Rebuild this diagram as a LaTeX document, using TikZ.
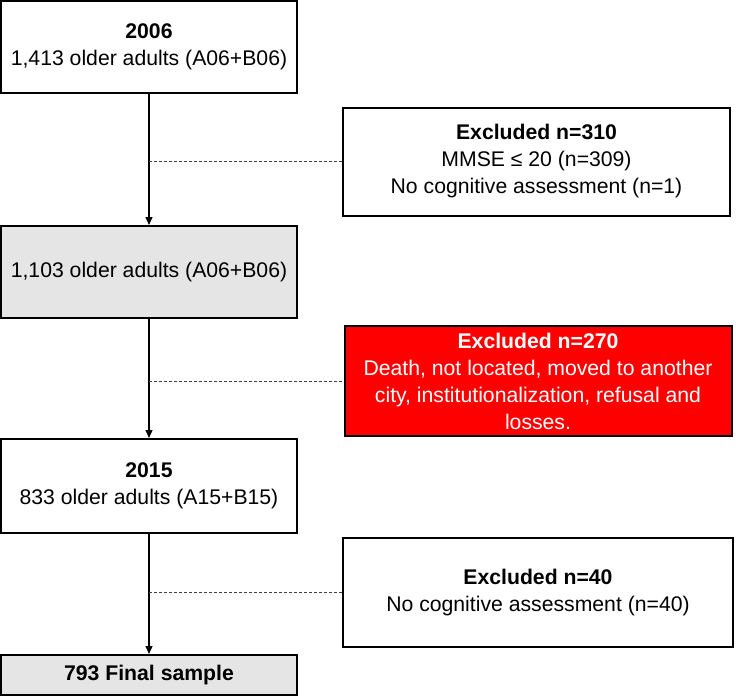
\documentclass[tikz,border=0pt]{standalone}
\usepackage{fontspec}
\setmainfont{Liberation Sans}
\usetikzlibrary{arrows.meta}
\definecolor{boxgray}{HTML}{E5E5E5}
\definecolor{exred}{HTML}{FF0000}
\begin{document}
\begin{tikzpicture}[x=1pt,y=-1pt,
  base/.style={draw=black, line width=2pt, align=center, inner sep=0pt,
    font=\fontsize{21.2}{27}\selectfont},
  mainbox/.style={base, minimum width=296pt, minimum height=92pt},
  exbox/.style={base, minimum width=387pt, minimum height=108pt},
  flow/.style={line width=1.2pt, -{Triangle[length=8pt,width=7pt]}},
  link/.style={line width=0.8pt, draw=black!75, dash pattern=on 3pt off 2pt}]
\useasboundingbox (0,0) rectangle (736,696);

\node[mainbox] (b1) at (149,47) {\textbf{2006}\\1,413 older adults (A06+B06)};
\node[mainbox, fill=boxgray] (b2) at (149,272) {1,103 older adults (A06+B06)};
\node[mainbox, minimum height=94pt] (b3) at (149,486) {\textbf{2015}\\833 older adults (A15+B15)};
\node[mainbox, fill=boxgray, minimum height=40pt] (b4) at (149,675) {\textbf{793 Final sample}};

\node[exbox] (e1) at (536.5,161.5) {\textbf{Excluded n=310}\\MMSE ≤ 20 (n=309)\\No cognitive assessment (n=1)};
\node[exbox, fill=exred, text=white, minimum height=110pt] (e2) at (538,381) {\textbf{Excluded n=270}\\Death, not located, moved to another\\city, institutionalization, refusal and\\losses.};
\node[exbox, minimum width=390pt, minimum height=109pt] (e3) at (538,592.5) {\textbf{Excluded n=40}\\No cognitive assessment (n=40)};

\draw[flow] (b1) -- (b2);
\draw[flow] (b2) -- (b3);
\draw[flow] (b3) -- (b4);

\coordinate (j1) at (b1.south |- e1.west);
\coordinate (j2) at (b2.south |- e2.west);
\coordinate (j3) at (b3.south |- e3.west);
\draw[link] (j1) -- (e1.west);
\draw[link] (j2) -- (e2.west);
\draw[link] (j3) -- (e3.west);
\end{tikzpicture}
\end{document}
